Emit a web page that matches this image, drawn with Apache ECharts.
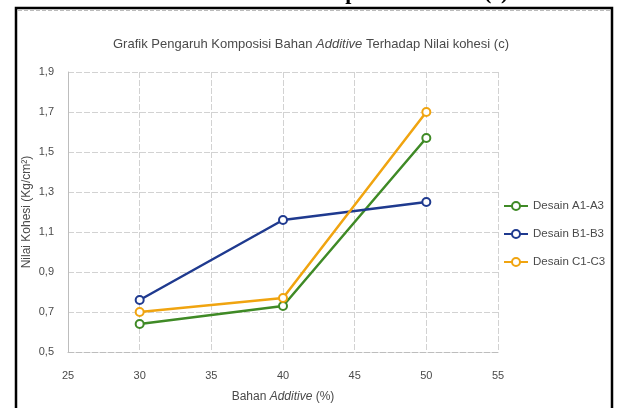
<!DOCTYPE html>
<html>
<head>
<meta charset="utf-8">
<script src="https://cdn.jsdelivr.net/npm/echarts@6/dist/echarts.min.js"></script>
<style>
html,body{margin:0;padding:0;background:#fff;}
#main{width:622px;height:408px;}
</style>
</head>
<body>
<div id="main"></div>
<script>
// ---- data ----
var xValues = [30, 40, 50];
var seriesNames = ['Desain A1-A3', 'Desain B1-B3', 'Desain C1-C3'];
var desainA = [0.64, 0.73, 1.57];
var desainB = [0.76, 1.16, 1.25];
var desainC = [0.70, 0.77, 1.70];
var xTicks = [25, 30, 35, 40, 45, 50, 55];
var yTicks = [0.5, 0.7, 0.9, 1.1, 1.3, 1.5, 1.7, 1.9];

function pairs(vals) { return xValues.map(function (x, i) { return [x, vals[i]]; }); }

var colors = ['#3f8a26', '#1f3a8f', '#f0a410'];
var font = '"Liberation Sans", Arial, sans-serif';
var textColor = '#4a4a4a';

var chart = echarts.init(document.getElementById('main'), null, {renderer: 'canvas'});

function mkSeries(name, vals, c) {
  return {
    name: name, type: 'line', data: pairs(vals),
    symbol: 'emptyCircle', symbolSize: 8,
    lineStyle: {color: c, width: 2.5},
    itemStyle: {color: c, borderColor: c, borderWidth: 2},
    emphasis: {disabled: true}
  };
}

chart.setOption({
  animation: false,
  backgroundColor: '#ffffff',
  color: colors,
  title: {
    text: '{n|Grafik Pengaruh Komposisi Bahan }{i|Additive}{n| Terhadap Nilai kohesi (c)}',
    left: 'center', top: 33,
    textStyle: {
      fontWeight: 'normal',
      rich: {
        n: {fontFamily: font, fontSize: 13, color: textColor, fontWeight: 'normal'},
        i: {fontFamily: font, fontSize: 13, color: textColor, fontStyle: 'italic', fontWeight: 'normal'}
      }
    }
  },
  grid: {left: 68, right: 124, top: 72, bottom: 52},
  legend: {
    orient: 'vertical', left: 498, top: 195, itemGap: 16,
    itemWidth: 24, itemHeight: 10, itemTextGap: 5,
    textStyle: {fontFamily: font, fontSize: 11.5, color: textColor},
    data: seriesNames
  },
  xAxis: {
    type: 'value', min: xTicks[0], max: xTicks[xTicks.length - 1], interval: 5,
    name: '{n|Bahan }{i|Additive}{n| (%)}', nameLocation: 'middle', nameGap: 39,
    nameMoveOverlap: false,
    nameTextStyle: {
      rich: {
        n: {fontFamily: font, fontSize: 12, color: textColor},
        i: {fontFamily: font, fontSize: 12, color: textColor, fontStyle: 'italic'}
      }
    },
    axisLine: {lineStyle: {color: '#bdbdbd', width: 1, type: [6, 2]}},
    axisTick: {show: false},
    axisLabel: {fontFamily: font, fontSize: 11, color: textColor, margin: 18},
    splitLine: {show: true, lineStyle: {color: '#d2d2d2', width: 1, type: [6, 2]}}
  },
  yAxis: {
    type: 'value', min: yTicks[0], max: yTicks[yTicks.length - 1], interval: 0.2,
    name: 'Nilai Kohesi (Kg/cm²)', nameLocation: 'middle', nameGap: 35,
    nameMoveOverlap: false,
    nameTextStyle: {fontFamily: font, fontSize: 12, color: textColor},
    axisLine: {show: true, lineStyle: {color: '#bdbdbd', width: 1}},
    axisTick: {show: false},
    axisLabel: {
      fontFamily: font, fontSize: 11, color: textColor, margin: 14,
      formatter: function (v) { return v.toFixed(1).replace('.', ','); }
    },
    splitLine: {show: true, lineStyle: {color: '#d2d2d2', width: 1, type: [6, 2]}}
  },
  series: [
    mkSeries(seriesNames[0], desainA, colors[0]),
    mkSeries(seriesNames[1], desainB, colors[1]),
    mkSeries(seriesNames[2], desainC, colors[2])
  ],
  graphic: [
    {
      type: 'text', left: 'center', top: -18, silent: true,
      style: {text: 'Bahan Additive Terhadap Nilai Kohesi (c)', font: 'bold 22px "Liberation Serif", serif', fill: '#000'}
    },
    {
      type: 'rect', silent: true, z: 100,
      shape: {x: 16, y: 8, width: 596, height: 420},
      style: {fill: 'none', stroke: '#000', lineWidth: 2.5}
    },
    {
      type: 'line', silent: true, z: 100,
      shape: {x1: 18, y1: 10.5, x2: 610, y2: 10.5},
      style: {stroke: '#bbbbbb', lineWidth: 1, lineDash: [4, 2]}
    }
  ]
});
</script>
</body>
</html>
